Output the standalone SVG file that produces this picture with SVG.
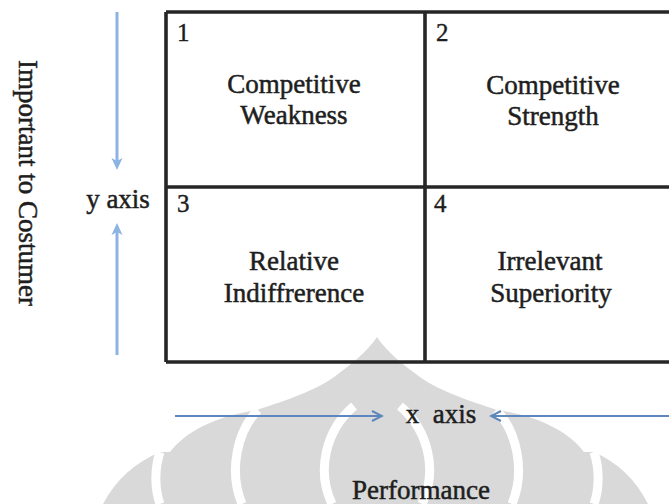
<svg xmlns="http://www.w3.org/2000/svg" width="669" height="504" viewBox="0 0 669 504">
<style>
.t{font-family:"Liberation Serif","Times New Roman",serif;font-size:27px;fill:#1e1e1e;stroke:#1e1e1e;stroke-width:0.5}
.c{text-anchor:middle}
.num{font-family:"Liberation Serif","Times New Roman",serif;font-size:25px;fill:#1e1e1e;stroke:#1e1e1e;stroke-width:0.4}
.grid{fill:none;stroke:#262626;stroke-width:3.6}
.ya{stroke:#8db3e2;stroke-width:3;fill:none}
.xa{stroke:#5f87bd;stroke-width:2;fill:none}
.wm{fill:#d9d9d9}
.ws{fill:none;stroke:#fff;stroke-width:9}
</style>
<defs>
<marker id="mya" viewBox="0 0 12 12" markerWidth="12" markerHeight="12" refX="4" refY="6" orient="auto" markerUnits="userSpaceOnUse">
<path d="M0,0.5 L12,6 L0,11.5 L3,6 z" fill="#8db3e2"/>
</marker>
<marker id="mxa" viewBox="-1 -1 13 12" markerWidth="13" markerHeight="12" refX="10" refY="5" orient="auto" markerUnits="userSpaceOnUse">
<path d="M0,0 L10,5 L0,10" fill="none" stroke="#5f87bd" stroke-width="2"/>
</marker>
</defs>
<rect width="669" height="504" fill="#fff"/>
<g id="watermark">
<path class="wm" d="M103,504 Q122,468 160,452 L170,452 C185,432 215,416 257,410 C287,400 318,390 338,374 C360,358 371,346 377,337 C383,346 394,358 416,374 C436,390 467,400 497,410 C539,416 569,432 584,452 L594,452 Q630,468 648,504 Z"/>
<path class="ws" d="M258,410 C238,430 228,470 242,504"/>
<path class="ws" d="M496,410 C516,430 526,470 512,504"/>
<path class="ws" d="M160,452 C154,470 155,490 160,504"/>
<path class="ws" d="M594,452 C600,470 599,490 594,504"/>
<path class="ws" d="M354,406 C326,430 316,470 332,504"/>
<path class="ws" d="M400,406 C428,430 438,470 422,504"/>
</g>
<g id="connectors">
<line class="ya" x1="117" y1="12" x2="117" y2="162" marker-end="url(#mya)"/>
<line class="ya" x1="117" y1="355" x2="117" y2="231" marker-end="url(#mya)"/>
<line class="xa" x1="175" y1="416" x2="382" y2="416" marker-end="url(#mxa)"/>
<line class="xa" x1="669" y1="416" x2="491" y2="416" marker-end="url(#mxa)"/>
</g>
<g id="grid">
<path class="grid" d="M166,12 H690 M166,187 H690 M166,362 H690 M166,12 V362 M425,12 V362"/>
</g>
<g id="q1">
<text class="num" x="177" y="41">1</text>
<text class="t c" x="294" y="93">Competitive</text>
<text class="t c" x="294" y="124">Weakness</text>
</g>
<g id="q2">
<text class="num" x="436" y="41">2</text>
<text class="t c" x="553" y="94">Competitive</text>
<text class="t c" x="553" y="125">Strength</text>
</g>
<g id="q3">
<text class="num" x="177" y="212">3</text>
<text class="t c" x="294" y="270">Relative</text>
<text class="t c" x="294" y="302">Indiffrerence</text>
</g>
<g id="q4">
<text class="num" x="434" y="212">4</text>
<text class="t c" x="550" y="270">Irrelevant</text>
<text class="t c" x="551" y="302">Superiority</text>
</g>
<g id="labels">
<text class="t c" transform="translate(19,183) rotate(90)">Important to Costumer</text>
<text class="t c" x="118" y="208">y axis</text>
<text class="t c" x="441" y="423" style="white-space:pre">x  axis</text>
<text class="t c" x="421" y="499">Performance</text>
</g>
</svg>
